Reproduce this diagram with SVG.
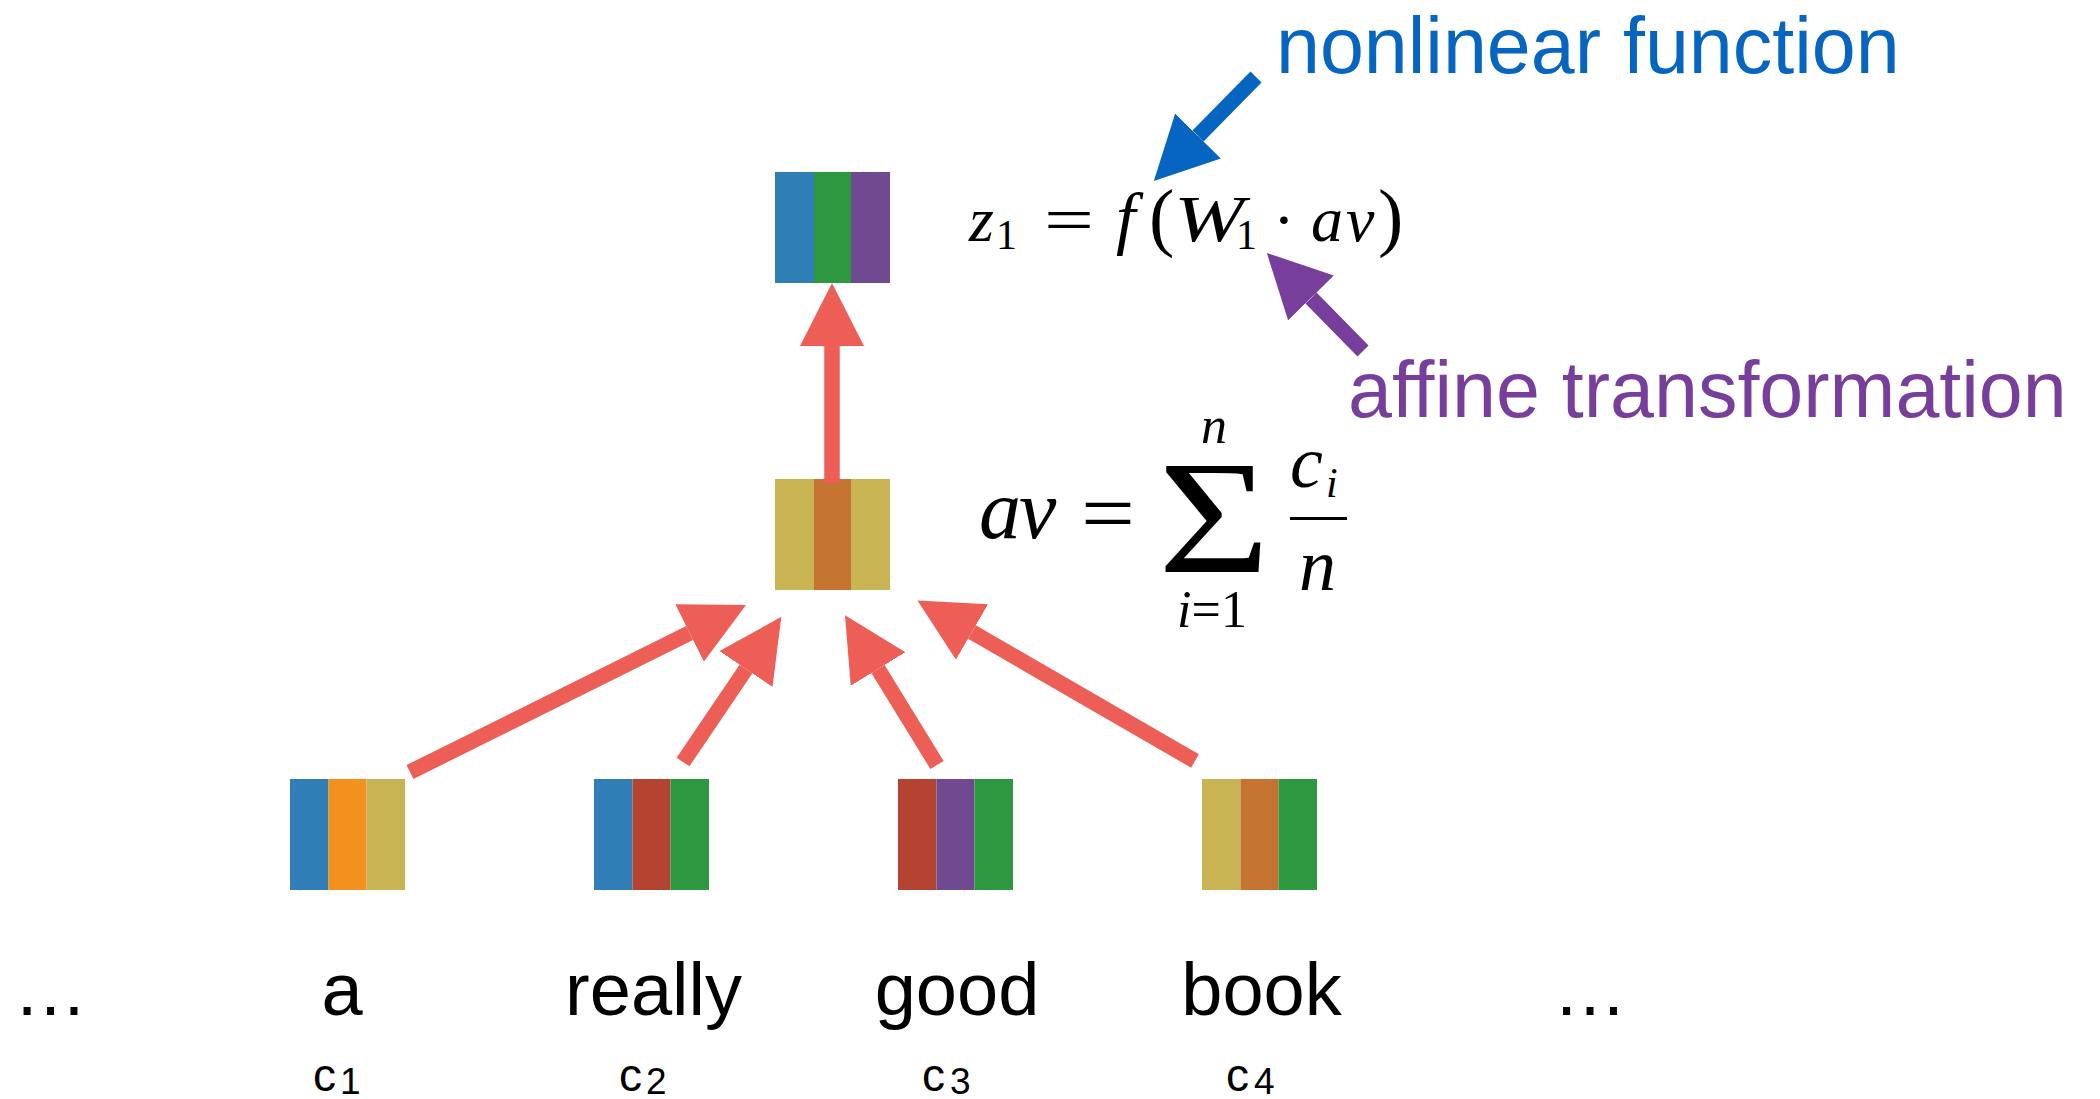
<svg xmlns="http://www.w3.org/2000/svg" width="2100" height="1099" viewBox="0 0 2100 1099">
<style>
.word{font-family:"Liberation Sans",Arial,sans-serif;font-size:74px;fill:#000;text-anchor:middle;}
.cl{font-family:"Liberation Sans",Arial,sans-serif;font-size:46px;fill:#000;}
.cs{font-family:"Liberation Sans",Arial,sans-serif;font-size:37px;fill:#000;}
.mi{font-family:"Liberation Serif","Times New Roman",serif;font-style:italic;fill:#000;}
.mn{font-family:"Liberation Serif","Times New Roman",serif;fill:#000;}
.ann{font-family:"Liberation Sans",Arial,sans-serif;font-size:79px;}
.blue{fill:#2f7fb6}.green{fill:#2e9840}.purple{fill:#704a91}.red{fill:#b44332}
.orange{fill:#f2911e}.olive{fill:#c9b454}.brown{fill:#c47430}
.ar{fill:none;stroke-width:15.5;stroke-linecap:butt}
</style>
<defs>
<marker id="hr" markerUnits="userSpaceOnUse" markerWidth="64" markerHeight="64" viewBox="0 0 64 64" refX="0" refY="32" orient="auto"><path d="M0,0 L63,32 L0,64 Z" fill="#ec5e56"/></marker>
<marker id="hb" markerUnits="userSpaceOnUse" markerWidth="64" markerHeight="64" viewBox="0 0 64 64" refX="0" refY="32" orient="auto"><path d="M0,0 L63,32 L0,64 Z" fill="#0665c0"/></marker>
<marker id="hp" markerUnits="userSpaceOnUse" markerWidth="64" markerHeight="64" viewBox="0 0 64 64" refX="0" refY="32" orient="auto"><path d="M0,0 L63,32 L0,64 Z" fill="#773e9b"/></marker>
</defs>
<rect width="2100" height="1099" fill="#fff"/>

<g id="node-z1">
<rect class="blue" x="775" y="172" width="39" height="111"/>
<rect class="green" x="814" y="172" width="37" height="111"/>
<rect class="purple" x="851" y="172" width="39" height="111"/>
</g>
<g id="node-av">
<rect class="olive" x="775" y="479" width="39" height="111"/>
<rect class="brown" x="814" y="479" width="37" height="111"/>
<rect class="olive" x="851" y="479" width="39" height="111"/>
</g>
<g id="node-c1">
<rect class="blue" x="290" y="779" width="38.5" height="111"/>
<rect class="orange" x="328.5" y="779" width="38" height="111"/>
<rect class="olive" x="366.5" y="779" width="38.5" height="111"/>
<text class="word" x="342" y="1015">a</text>
<text class="cl" x="313" y="1091">c</text><text class="cs" x="340" y="1094">1</text>
</g>
<g id="node-c2">
<rect class="blue" x="594" y="779" width="38.5" height="111"/>
<rect class="red" x="632.5" y="779" width="38" height="111"/>
<rect class="green" x="670.5" y="779" width="38.5" height="111"/>
<text class="word" x="653.5" y="1015">really</text>
<text class="cl" x="619" y="1091">c</text><text class="cs" x="646" y="1094">2</text>
</g>
<g id="node-c3">
<rect class="red" x="898" y="779" width="38.5" height="111"/>
<rect class="purple" x="936.5" y="779" width="38" height="111"/>
<rect class="green" x="974.5" y="779" width="38.5" height="111"/>
<text class="word" x="957" y="1015">good</text>
<text class="cl" x="922" y="1091">c</text><text class="cs" x="950" y="1094">3</text>
</g>
<g id="node-c4">
<rect class="olive" x="1202" y="779" width="38.5" height="111"/>
<rect class="brown" x="1240.5" y="779" width="38" height="111"/>
<rect class="green" x="1278.5" y="779" width="38.5" height="111"/>
<text class="word" x="1261.5" y="1015">book</text>
<text class="cl" x="1226" y="1091">c</text><text class="cs" x="1254" y="1094">4</text>
</g>
<g id="ellipsis-left"><text class="word" x="50.5" y="1015">…</text></g>
<g id="ellipsis-right"><text class="word" x="1590" y="1015">…</text></g>

<g id="formula-z1">
<text class="mi" x="969" y="241" font-size="64">z</text>
<text class="mn" x="996" y="249" font-size="42">1</text>
<text class="mn" x="1044" y="241" font-size="64" textLength="50" lengthAdjust="spacingAndGlyphs">=</text>
<text class="mi" x="1116" y="241" font-size="70">f</text>
<text class="mn" x="1149" y="242" font-size="76">(</text>
<text class="mi" x="1174" y="241" font-size="66" textLength="70" lengthAdjust="spacingAndGlyphs">W</text>
<text class="mn" x="1236" y="249" font-size="42">1</text>
<text class="mn" x="1284" y="241" font-size="64" text-anchor="middle">·</text>
<text class="mi" x="1311" y="241" font-size="64">a</text>
<text class="mi" x="1346" y="241" font-size="64">v</text>
<text class="mn" x="1378" y="242" font-size="76">)</text>
</g>
<g id="formula-av">
<text class="mi" x="979" y="538" font-size="84">a</text>
<text class="mi" x="1019" y="538" font-size="84">v</text>
<text class="mn" x="1081" y="542" font-size="84" textLength="54" lengthAdjust="spacingAndGlyphs">=</text>
<text class="mn" x="1158" y="572" font-size="162" textLength="112" lengthAdjust="spacingAndGlyphs">Σ</text>
<text class="mi" x="1214" y="443" font-size="52" text-anchor="middle">n</text>
<text class="mn" x="1212" y="627" font-size="52" text-anchor="middle"><tspan class="mi">i</tspan>=1</text>
<text class="mi" x="1290" y="487" font-size="74">c</text>
<text class="mi" x="1326" y="497" font-size="42">i</text>
<rect x="1290" y="517" width="57" height="3" fill="#000"/>
<text class="mi" x="1299" y="590" font-size="74">n</text>
</g>

<g id="label-nonlinear"><text class="ann" x="1276" y="73" fill="#0665c0">nonlinear function</text></g>
<g id="label-affine"><text class="ann" x="1348" y="417" fill="#773e9b">affine transformation</text></g>

<g id="connectors">
<line class="ar" x1="832" y1="483" x2="832" y2="346" stroke="#ec5e56" marker-end="url(#hr)"/>
<line class="ar" x1="410" y1="772" x2="689.6" y2="633" stroke="#ec5e56" marker-end="url(#hr)"/>
<line class="ar" x1="683" y1="762" x2="746" y2="669" stroke="#ec5e56" marker-end="url(#hr)"/>
<line class="ar" x1="937" y1="765" x2="878" y2="669" stroke="#ec5e56" marker-end="url(#hr)"/>
<line class="ar" x1="1195" y1="761" x2="972" y2="632" stroke="#ec5e56" marker-end="url(#hr)"/>
<line class="ar" x1="1256" y1="77" x2="1198" y2="136" stroke="#0665c0" marker-end="url(#hb)"/>
<line class="ar" x1="1363" y1="351" x2="1311" y2="298" stroke="#773e9b" marker-end="url(#hp)"/>
</g>
</svg>
